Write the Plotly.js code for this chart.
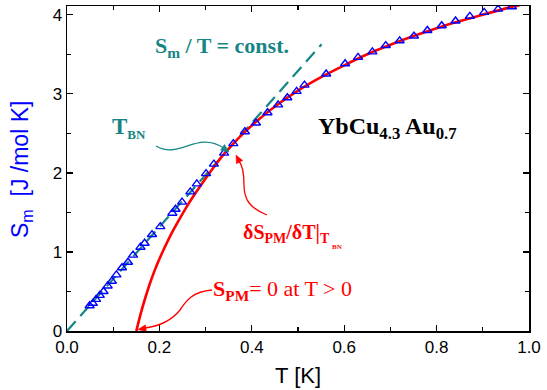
<!DOCTYPE html>
<html><head><meta charset="utf-8">
<script src="https://cdn.plot.ly/plotly-3.0.1.min.js"></script>
<style>body{margin:0;background:#fff}#c{width:547px;height:390px}</style>
</head><body><div id="c"></div>
<script>
// measured entropy S_m(T)
const dataT = [0.049,0.056,0.063,0.071,0.079,0.088,0.097,0.107,0.119,0.132,0.143,0.159,0.168,0.184,0.202,0.228,0.235,0.249,0.267,0.281,0.301,0.318,0.340,0.360,0.385,0.409,0.434,0.457,0.477,0.497,0.514,0.561,0.602,0.630,0.661,0.690,0.720,0.751,0.780,0.811,0.841,0.872,0.903,0.933,0.963];
const dataS = [0.32,0.35,0.40,0.45,0.50,0.57,0.63,0.71,0.80,0.87,0.96,1.06,1.11,1.22,1.32,1.49,1.54,1.63,1.76,1.86,1.99,2.11,2.25,2.37,2.52,2.63,2.76,2.86,2.95,3.03,3.11,3.25,3.38,3.46,3.53,3.61,3.67,3.73,3.80,3.86,3.92,3.98,4.03,4.07,4.10];
// paramagnetic entropy fit S_PM(T)
const fitT = [0.150,0.160,0.170,0.180,0.190,0.200,0.210,0.225,0.240,0.260,0.280,0.300,0.320,0.340,0.360,0.380,0.400,0.450,0.500,0.550,0.600,0.650,0.700,0.750,0.800,0.850,0.900,0.950,1.000];
const fitS = [0.00,0.23,0.43,0.61,0.77,0.91,1.04,1.22,1.38,1.58,1.76,1.93,2.09,2.24,2.37,2.49,2.60,2.84,3.04,3.21,3.36,3.50,3.62,3.73,3.83,3.92,4.00,4.08,4.15];
// S_m / T = const. line
const linT = [0.0,0.551];
const linS = [0.0,3.625];

const TEAL = '#168585', RED = '#ff0000', BLUE = '#0000ff';
const L = 67, R = 529, TOP = 6, BOT = 331, YMAX = 4.11;
function dx(px){ return (px - L) / (R - L); }
function dy(py){ return (BOT - py) / (BOT - TOP) * YMAX; }
function px2paperY(py){ return (BOT - py) / (BOT - TOP); }
function path(cmds){
  return cmds.map(c => c[0] + ' ' + c.slice(1).reduce((a,v,i)=>{ if(i%2===0){a.push(dx(v)+','+dy(c[i+2]));} return a; },[]).join(' ')).join(' ');
}
function head(tip, back){
  const vx = tip[0]-back[0], vy = tip[1]-back[1], n = Math.hypot(vx,vy);
  const ux = vx/n, uy = vy/n, bx = tip[0]-8*ux, by = tip[1]-8*uy;
  const p1 = [bx - 3.5*uy, by + 3.5*ux], p2 = [bx + 3.5*uy, by - 3.5*ux];
  return 'M '+dx(tip[0])+','+dy(tip[1])+' L '+dx(p1[0])+','+dy(p1[1])+' L '+dx(p2[0])+','+dy(p2[1])+' Z';
}

const traces = [
  {x: linT, y: linS, mode:'lines', line:{color:TEAL, width:2.2, dash:'13px,7px'}, hoverinfo:'skip'},
  {x: fitT, y: fitS, mode:'lines', line:{color:RED, width:2.6, shape:'spline', smoothing:0.8}, hoverinfo:'skip'},
  {x: dataT, y: dataS, mode:'markers', marker:{symbol:'triangle-up-open', size:8, color:BLUE, line:{width:1.4, color:BLUE}}, hoverinfo:'skip'}
];

const shapes = [
  {type:'path', xref:'x', yref:'y', path: path([['M',156,146],['C',180,160,196,130,224,148]]), line:{color:TEAL, width:1.3}},
  {type:'path', xref:'x', yref:'y', path: head([229,152],[222,147]), fillcolor:TEAL, line:{color:TEAL, width:0.5}},
  {type:'path', xref:'x', yref:'y', path: path([['M',267,215],['C',250,208,244,200,244,185],['C',244,173,243,166,239,161]]), line:{color:RED, width:1.3}},
  {type:'path', xref:'x', yref:'y', path: head([236,155],[240,163]), fillcolor:RED, line:{color:RED, width:0.5}},
  {type:'path', xref:'x', yref:'y', path: path([['M',212,290],['C',190,292,185,303,180,310],['C',172,320,160,326,145,328]]), line:{color:RED, width:1.3}},
  {type:'path', xref:'x', yref:'y', path: head([138,329.5],[146,328.3]), fillcolor:RED, line:{color:RED, width:0.5}}
];

const SERIF = 'Liberation Serif, Times New Roman, serif';
const SANS = 'Liberation Sans, Arial, sans-serif';
function ann(px, py, text, size, color, extra){
  return Object.assign({x:dx(px), y:dy(py), xref:'x', yref:'y', text:text, showarrow:false, xanchor:'left', yanchor:'middle',
    font:{family:SERIF, size:size, color:color}}, extra||{});
}
const annotations = [
  ann(153, 47, '<b>S<sub>m</sub> / T = const.</b>', 22, TEAL),
  ann(110, 128, '<b>T<sub><span style="font-size:13px">BN</span></sub></b>', 23, TEAL),
  ann(316, 128, '<b>YbCu<sub>4.3</sub> Au<sub>0.7</sub></b>', 24, '#000'),
  ann(241, 233, '<b>δS<sub>PM</sub>/δT|<sub>T</sub></b>', 20, RED),
  ann(330, 247, '<b>BN</b>', 7, RED),
  ann(211, 290, '<b>S<sub>PM</sub></b>= 0 at T &gt; 0', 22, RED),
  // axis titles
  {x:(298-L)/(R-L), y:px2paperY(375), xref:'paper', yref:'paper', text:'T [K]', showarrow:false, xanchor:'center', yanchor:'middle',
    font:{family:SANS, size:22, color:'#000'}},
  {x:(21-L)/(R-L), y:px2paperY(170), xref:'paper', yref:'paper', text:'S<sub>m</sub>  [J /mol K]', textangle:-90, showarrow:false,
    xanchor:'center', yanchor:'middle', font:{family:SANS, size:23, color:BLUE}}
];

const axisBase = {showline:true, linecolor:'#000', linewidth:1.5, mirror:'ticks', ticks:'inside', ticklen:6, tickwidth:1.3, tickcolor:'#000',
  showgrid:false, zeroline:false, tickfont:{family:SANS, size:17, color:'#000'}, automargin:false};

const layout = {
  width:547, height:390, margin:{l:67, r:18, t:6, b:59}, showlegend:false,
  paper_bgcolor:'#fff', plot_bgcolor:'#fff',
  xaxis: Object.assign({}, axisBase, {range:[0,1.0], dtick:0.2, tick0:0, tickformat:'.1f',
    minor:{dtick:0.1, ticks:'inside', ticklen:4, tickwidth:1.2, tickcolor:'#000'}}),
  yaxis: Object.assign({}, axisBase, {range:[0,YMAX], dtick:1, tick0:0,
    minor:{dtick:0.5, ticks:'inside', ticklen:4, tickwidth:1.2, tickcolor:'#000'}}),
  shapes: shapes, annotations: annotations
};
Plotly.newPlot('c', traces, layout, {displayModeBar:false, staticPlot:true});
</script></body></html>
